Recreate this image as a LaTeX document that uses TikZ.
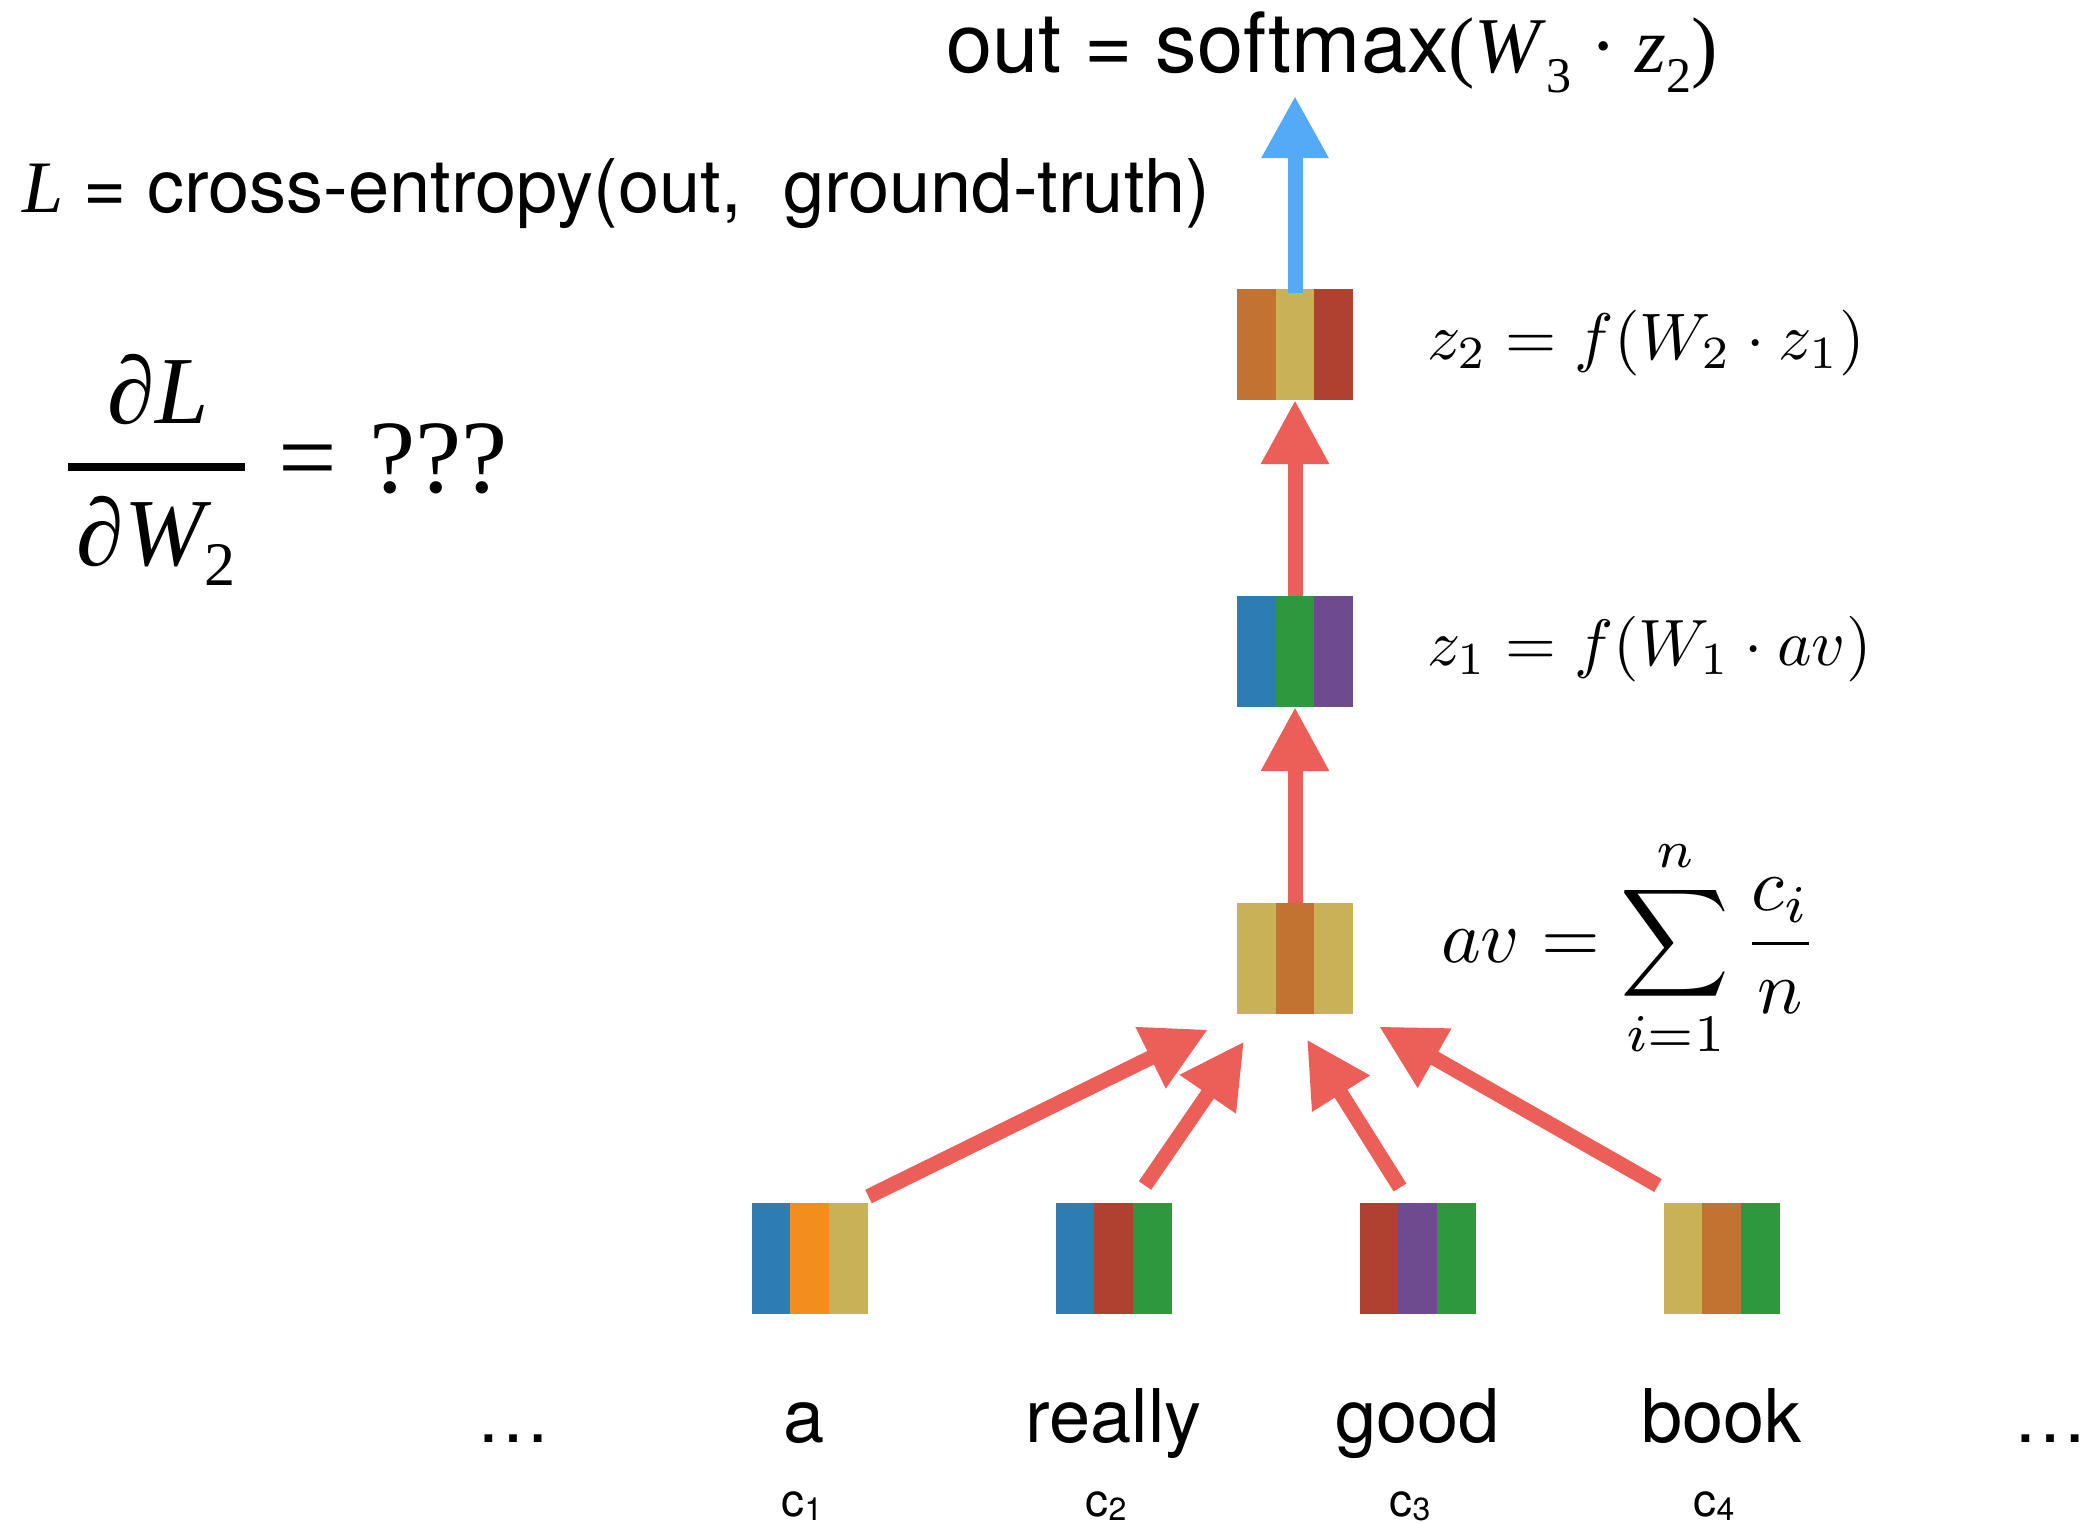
\documentclass[tikz,border=0pt]{standalone}
\usepackage{amsmath}
\usepackage{graphicx}
\usepackage[no-math]{fontspec}
\newfontfamily\hv{TeX Gyre Heros}
\newfontfamily\tms{Liberation Serif}
\usetikzlibrary{arrows.meta,calc}

\definecolor{cBlue}{RGB}{46,125,178}
\definecolor{cOrange}{RGB}{242,142,28}
\definecolor{cYellow}{RGB}{200,178,85}
\definecolor{cBrown}{RGB}{194,115,50}
\definecolor{cRed}{RGB}{176,64,48}
\definecolor{cGreen}{RGB}{46,152,62}
\definecolor{cPurple}{RGB}{110,74,142}
\definecolor{arrRed}{RGB}{236,94,88}
\definecolor{arrBlue}{RGB}{84,170,246}

\newcommand\vecnode[5]{%
  \node[vec] (#1) at (#2) {};
  \fill[#3] (#1.north west) rectangle ($(#1.south west)!1/3!(#1.south east)$);
  \fill[#4] ($(#1.north west)!1/3!(#1.north east)$) rectangle ($(#1.south west)!2/3!(#1.south east)$);
  \fill[#5] ($(#1.north west)!2/3!(#1.north east)$) rectangle (#1.south east);
}
\newcommand\lowsub[3]{\raisebox{-#1}{\fontsize{#2}{#2}\selectfont #3}}

\begin{document}
\begin{tikzpicture}[x=1pt,y=-1pt,
  vec/.style={rectangle, minimum width=116pt, minimum height=111pt, inner sep=0pt, outer sep=0pt},
  txt/.style={inner sep=0pt, outer sep=0pt, text=black},
  word/.style={txt, anchor=base, font=\hv\fontsize{74}{88}\selectfont},
  clabel/.style={txt, anchor=base, font=\hv\fontsize{46}{50}\selectfont},
  mlabel/.style={txt, anchor=base west, font=\normalsize},
  redarrow/.style={draw=arrRed, line width=15pt, -{Triangle[length=64pt,width=64pt]}},
  bluearrow/.style={draw=arrBlue, line width=15pt, -{Triangle[length=62pt,width=63pt]}}]
\useasboundingbox (0,0) rectangle (2089,1523);

% ---- vectors
\vecnode{z2}{1295,344.5}{cBrown}{cYellow}{cRed}
\vecnode{z1}{1295,651.5}{cBlue}{cGreen}{cPurple}
\vecnode{av}{1295,958}{cYellow}{cBrown}{cYellow}
\vecnode{c1}{809.5,1258}{cBlue}{cOrange}{cYellow}
\vecnode{c2}{1113.5,1258}{cBlue}{cRed}{cGreen}
\vecnode{c3}{1417.5,1258}{cRed}{cPurple}{cGreen}
\vecnode{c4}{1721.5,1258}{cYellow}{cBrown}{cGreen}

% ---- top texts
\node[txt, anchor=base west] (outlbl) at (946,72)
  {\fontsize{83}{90}\selectfont\hv out = softmax{\fontsize{79}{90}\selectfont\tms(\textit{W}\lowsub{20pt}{50}{3}\hspace{0.24em}·\hspace{0.24em}\textit{z}\lowsub{20pt}{50}{2})}};
\node[txt, anchor=base west] (losslbl) at (22,212)
  {\fontsize{74}{88}\selectfont{\tms\itshape L}\hv{} = cross-entropy(out,~ ground-truth)};

% ---- derivative
\node[txt, anchor=base] (num) at (158,423) {\tms\itshape\fontsize{96}{110}\selectfont ∂L};
\node[txt, anchor=base] (den) at (156,565)
  {\tms\itshape\fontsize{96}{110}\selectfont ∂W\lowsub{20pt}{62}{\upshape 2}};
\coordinate (barL) at (68,467);
\coordinate (barR) at (245,467);
\draw[line width=8pt] (barL) -- (barR);
\node[txt, anchor=base west] (eq) at (278,492) {\tms\fontsize{104}{110}\selectfont =};
\node[txt, anchor=base west] (qq) at (369,492) {\tms\fontsize{104}{110}\selectfont ???};

% ---- math labels
\node[mlabel] (z2lbl) at (1427,359) {\scalebox{6.58}{$z_2 = f(W_2\cdot z_1)$}};
\node[mlabel] (z1lbl) at (1427,665) {\scalebox{6.55}{$z_1 = f(W_1\cdot av)$}};
\node[mlabel] (avlbl) at (1441,962) {\scalebox{7.55}{$\displaystyle av = \sum_{i=1}^{n}\frac{c_i}{n}$}};

% ---- words
\node[word] (dl) at (513,1442) {…};
\node[word] (wa) at (804,1442) {a};
\node[word] (wr) at (1113.5,1442) {really};
\node[word] (wg) at (1417.5,1442) {good};
\node[word] (wb) at (1721.5,1442) {book};
\node[word] (dr) at (2050,1442) {…};

\node[clabel] (l1) at (802,1516) {c\lowsub{4pt}{32}{1}};
\node[clabel] (l2) at (1106,1516) {c\lowsub{4pt}{32}{2}};
\node[clabel] (l3) at (1410,1516) {c\lowsub{4pt}{32}{3}};
\node[clabel] (l4) at (1714,1516) {c\lowsub{4pt}{32}{4}};

% ---- arrows
\coordinate (outtip) at (1295,96);
\draw[bluearrow] ([yshift=-4pt]z2.north) -- (outtip);
\draw[redarrow] (z1.north) -- (z2.south);
\draw[redarrow] (av.north) -- (z1.south);

\coordinate (ta) at ([xshift=-87pt,yshift=-16pt]av.south);
\coordinate (tr) at ([xshift=-51pt,yshift=-28pt]av.south);
\coordinate (tg) at ([xshift=12pt,yshift=-26pt]av.south);
\coordinate (tb) at ([xshift=84pt,yshift=-13pt]av.south);
\draw[redarrow] ([xshift=1pt,yshift=6pt]c1.north east) -- (ta);
\draw[redarrow] ([xshift=31.5pt,yshift=17pt]c2.north) -- (tr);
\draw[redarrow] ([xshift=-17.5pt,yshift=15pt]c3.north) -- (tg);
\draw[redarrow] ([xshift=-63.5pt,yshift=17pt]c4.north) -- (tb);
\end{tikzpicture}
\end{document}
